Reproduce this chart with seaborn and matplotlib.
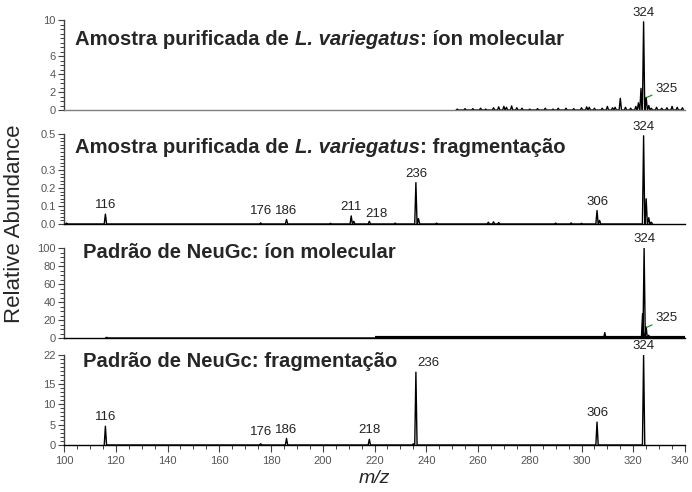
import numpy as np
import pandas as pd
import seaborn as sns
import matplotlib.pyplot as plt
import matplotlib.transforms as mtransforms
from matplotlib.ticker import MultipleLocator

# ---- data (m/z, relative abundance) ----
ion_sample_mz = [252, 255, 258, 261, 263, 266, 268, 270, 271, 273, 275, 277, 280, 283,
                 286, 289, 291, 294, 297, 300, 302, 303, 305, 308, 310, 312, 313, 315,
                 317, 319, 321, 322, 323, 324, 325, 326, 327, 329, 331, 333, 335, 337, 339]
ion_sample_int = [0.1, 0.15, 0.15, 0.2, 0.1, 0.25, 0.35, 0.4, 0.3, 0.45, 0.25, 0.2, 0.1, 0.15,
                  0.2, 0.1, 0.2, 0.2, 0.15, 0.25, 0.35, 0.3, 0.2, 0.2, 0.4, 0.25, 0.3, 1.3,
                  0.3, 0.2, 0.4, 0.8, 2.4, 9.8, 1.4, 0.5, 0.2, 0.3, 0.2, 0.25, 0.4, 0.3, 0.25]

frag_sample_mz = [101, 116, 176, 186, 203, 211, 212, 218, 228, 236, 237, 244, 264, 266,
                  268, 290, 296, 300, 306, 307, 324, 325, 326, 327]
frag_sample_int = [0.005, 0.055, 0.006, 0.025, 0.004, 0.045, 0.015, 0.015, 0.005, 0.23,
                   0.03, 0.005, 0.01, 0.012, 0.008, 0.005, 0.006, 0.004, 0.075, 0.02,
                   0.49, 0.14, 0.035, 0.01]

ion_std_mz = [116.5, 309, 323.6, 324.2, 325, 326]
ion_std_int = [0.8, 6, 27, 100, 12, 3]
ion_std_floor = [220, 340]

frag_std_mz = [116, 176, 186, 218, 235, 236, 306, 324]
frag_std_int = [4.6, 0.3, 1.6, 1.4, 0.3, 17.8, 5.6, 22]

titles = [
    [("Amostra purificada de ", "normal"), ("L. variegatus", "italic"), (": íon molecular", "normal")],
    [("Amostra purificada de ", "normal"), ("L. variegatus", "italic"), (": fragmentação", "normal")],
    [("Padrão de NeuGc: íon molecular", "normal")],
    [("Padrão de NeuGc: fragmentação", "normal")],
]
peak_labels = [
    [(324, "324")],
    [(116, "116"), (176, "176"), (186, "186"), (211, "211"), (218, "218"),
     (236, "236"), (306, "306"), (324, "324")],
    [(324.2, "324")],
    [(116, "116"), (176, "176"), (186, "186"), (218, "218"), (236, "236"),
     (306, "306"), (324, "324")],
]
iso_labels = [(325, "325"), None, (325, "325"), None]
yticks = [[0, 2, 4, 6, 10], [0.0, 0.1, 0.2, 0.3, 0.5], [0, 20, 40, 60, 80, 100], [0, 5, 10, 15, 22]]
ytick_fmt = ["{:.0f}", "{:.1f}", "{:.0f}", "{:.0f}"]
ymax = [10, 0.5, 100, 22]
yminor = [0.5, 0.02, 5, 1]

panels = [(ion_sample_mz, ion_sample_int), (frag_sample_mz, frag_sample_int),
          (ion_std_mz, ion_std_int), (frag_std_mz, frag_std_int)]

# label nudges (points)
label_dx = {(1, "218"): 5, (3, "236"): 9}
label_dy = {(1, "176"): 4, (3, "176"): 4, (1, "218"): 1}


def profile(mz, inten, w=0.45):
    xs, ys = [], []
    for m, h in sorted(zip(mz, inten)):
        xs += [m - w, m, m + w]
        ys += [0, h, 0]
    return pd.DataFrame({"mz": xs, "abundance": ys})


sns.set_theme(style="ticks")
plt.rcParams["font.family"] = ["Liberation Sans", "DejaVu Sans"]

fig = plt.figure(figsize=(6.92, 4.92), dpi=100)
W, H = 692, 492
left, right = 64, 685
bottoms = [110, 224, 338, 445]
title_bottom = [0.675, 0.745, 0.845, 0.822]
title_x = [0.018, 0.018, 0.031, 0.031]

axes = []
for i, (mz, inten) in enumerate(panels):
    b = bottoms[i]
    ax = fig.add_axes([left / W, 1 - b / H, (right - left) / W, 90 / H])
    axes.append(ax)
    df = profile(mz, inten)
    sns.lineplot(data=df, x="mz", y="abundance", ax=ax, color="black", lw=1.0,
                 sort=False, estimator=None)
    if i == 2:
        ax.hlines(0, ion_std_floor[0], ion_std_floor[1], color="black", lw=3.0)
    ax.set_xlim(100, 340)
    ax.set_ylim(0, ymax[i])
    ax.set_xlabel("")
    ax.set_ylabel("")
    sns.despine(ax=ax)
    for s in ("left", "bottom"):
        ax.spines[s].set_linewidth(1.0)
    ax.spines["bottom"].set_color("#808080" if i == 0 else "black")
    ax.spines["left"].set_color("#404040")
    ax.set_yticks(yticks[i])
    ax.set_yticklabels([ytick_fmt[i].format(t) for t in yticks[i]])
    ax.yaxis.set_minor_locator(MultipleLocator(yminor[i]))
    ax.tick_params(axis="y", which="major", length=4, width=0.8, labelsize=8,
                   colors="#404040", labelcolor="#555555", pad=2)
    ax.tick_params(axis="y", which="minor", length=3, width=0.7, colors="#404040")
    if i < 3:
        ax.tick_params(axis="x", which="both", bottom=False, labelbottom=False)
    else:
        ax.set_xticks(np.arange(100, 341, 20))
        ax.xaxis.set_minor_locator(MultipleLocator(5))
        ax.tick_params(axis="x", which="major", length=5, width=0.8, labelsize=8,
                       colors="#404040", labelcolor="#555555", pad=3)
        ax.tick_params(axis="x", which="minor", length=3, width=0.7, colors="#404040")

    # title with mixed bold / bold italic
    prev = None
    for txt, style in titles[i]:
        if prev is None:
            prev = ax.text(title_x[i], title_bottom[i], txt, transform=ax.transAxes,
                           fontsize=14.6, fontweight="bold", fontstyle=style,
                           va="bottom", ha="left")
        else:
            prev = ax.annotate(txt, xy=(1, 0), xycoords=prev, fontsize=14.6,
                               fontweight="bold", fontstyle=style, va="bottom", ha="left")

    # peak labels
    lookup = dict(zip(mz, inten))
    for m, lab in peak_labels[i]:
        h = lookup.get(m, 0)
        dx = label_dx.get((i, lab), 0)
        dy = label_dy.get((i, lab), 2)
        ax.annotate(lab, xy=(m, h), xytext=(dx, dy), textcoords="offset points",
                    ha="center", va="bottom", fontsize=9.5, color="#222222",
                    annotation_clip=False)
    if iso_labels[i] is not None:
        m, lab = iso_labels[i]
        h = lookup.get(m, 0)
        ax.annotate(lab, xy=(m + 0.3, h), xytext=(6, 2), textcoords="offset points",
                    ha="left", va="bottom", fontsize=9.5, color="#222222",
                    arrowprops=dict(arrowstyle="-", color="#2e8b2e", lw=0.9,
                                    shrinkA=0, shrinkB=0))

# keep the last x tick label ("340") inside the figure
last_tick = axes[-1].xaxis.get_major_ticks()[-1]
last_tick.label1.set_transform(last_tick.label1.get_transform()
                               + mtransforms.ScaledTranslation(-4 / 72, 0, fig.dpi_scale_trans))

axes[-1].set_xlabel("m/z", fontsize=14, fontstyle="italic", labelpad=3)
fig.text(15 / W, 1 - 224 / H, "Relative Abundance", rotation=90, fontsize=16,
         ha="center", va="center")

fig.savefig("out.png", dpi=100)
